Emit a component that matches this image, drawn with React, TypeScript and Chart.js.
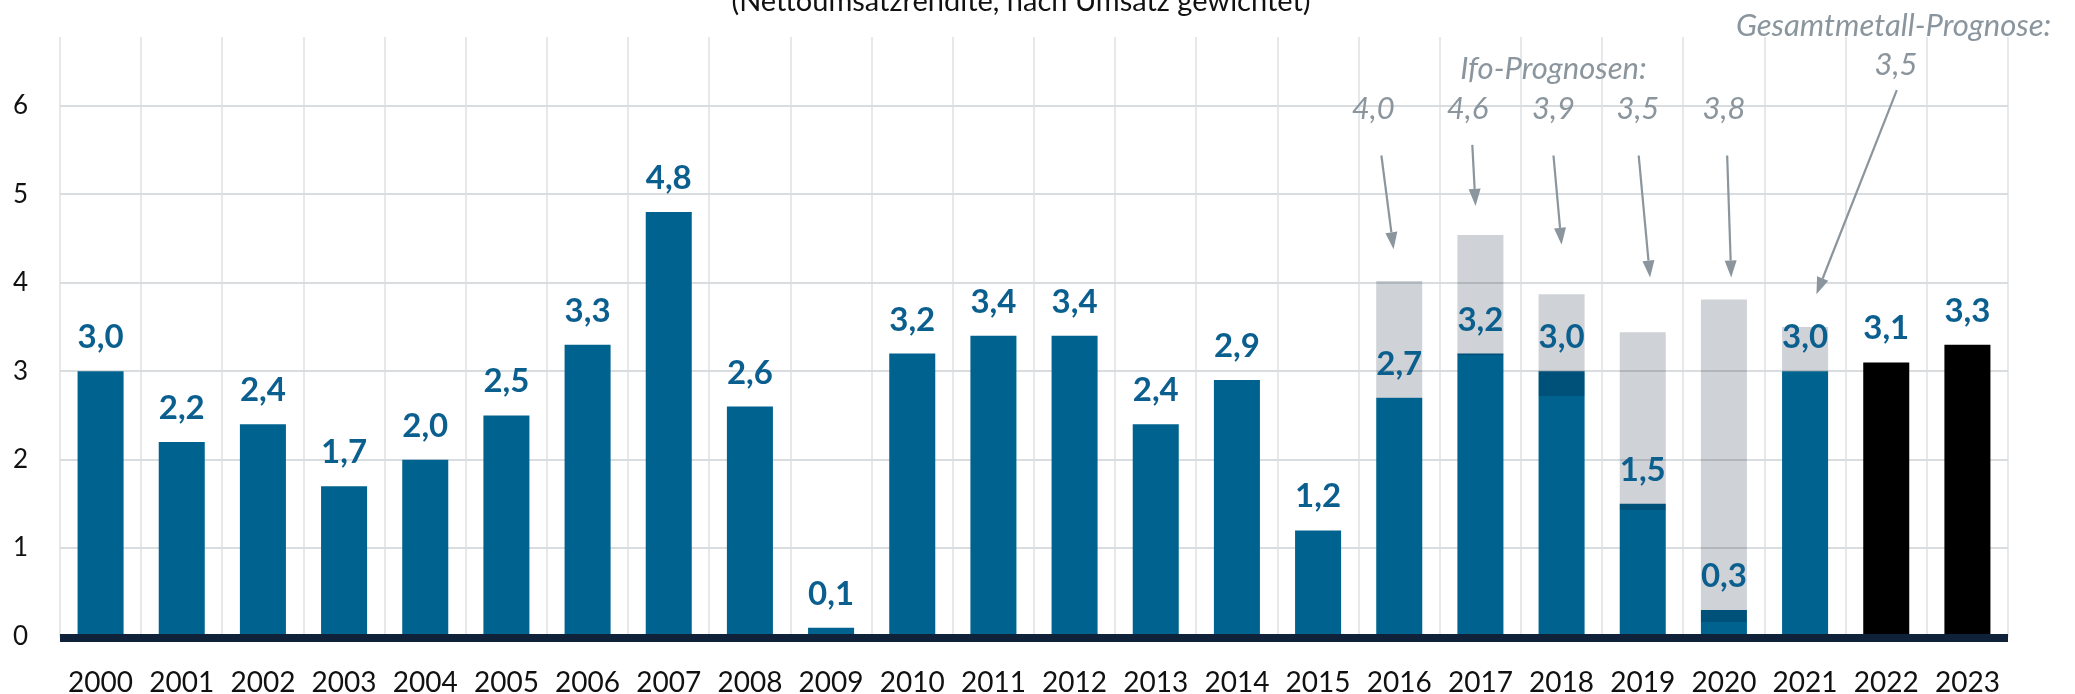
import React, { useEffect, useRef } from 'react';
import { Chart, registerables } from 'chart.js';

Chart.register(...registerables);

// ---------- data ----------
const years = ['2000', '2001', '2002', '2003', '2004', '2005', '2006', '2007', '2008', '2009', '2010', '2011', '2012', '2013', '2014', '2015', '2016', '2017', '2018', '2019', '2020', '2021', '2022', '2023'];
const actualValues = [3.0, 2.2, 2.4, 1.7, 2.0, 2.5, 3.3, 4.8, 2.6, 0.1, 3.2, 3.4, 3.4, 2.4, 2.9, 1.2, 2.7, 3.2, 3.0, 1.5, 0.3, 3.0, 3.1, 3.3];
const actualLabels = ['3,0', '2,2', '2,4', '1,7', '2,0', '2,5', '3,3', '4,8', '2,6', '0,1', '3,2', '3,4', '3,4', '2,4', '2,9', '1,2', '2,7', '3,2', '3,0', '1,5', '0,3', '3,0', '3,1', '3,3'];
// forecast (grey) bars: start and end per year, null where none
const forecastStart = [null, null, null, null, null, null, null, null, null, null, null, null, null, null, null, null, 2.7, 3.18, 2.72, 1.43, 0.165, 3.0, null, null];
const forecastEnd = [null, null, null, null, null, null, null, null, null, null, null, null, null, null, null, null, 4.02, 4.54, 3.87, 3.44, 3.81, 3.5, null, null];
// Ifo forecasts (2016-2020) and Gesamtmetall forecast (2021)
const ifoYears = [16, 17, 18, 19, 20];
const ifoLabels = ['4,0', '4,6', '3,9', '3,5', '3,8'];
const ifoLabelShift = [-0.32, -0.16, -0.1, -0.06, 0.0];
const ifoArrowStart = [[-0.22, 5.44], [-0.1, 5.56], [-0.1, 5.44], [-0.05, 5.44], [0.04, 5.44]];
const ifoArrowEnd = [[-0.07, 4.38], [-0.06, 4.87], [0.0, 4.43], [0.09, 4.06], [0.09, 4.06]];
const gmYear = 21;
const gmLabel = '3,5';
const yTicks = [0, 1, 2, 3, 4, 5, 6];
const yMax = 6.78;

const titleText = '(Nettoumsatzrendite, nach Umsatz gewichtet)';
const ifoHeading = 'Ifo-Prognosen:';
const gmHeading = 'Gesamtmetall-Prognose:';

const BLUE = '#00628f';
const BLACK = '#000000';
const GREY = '#cfd2d7';
const LABEL_BLUE = '#0b5f8e';
const ANNOT = '#8a959d';
const AXIS = '#10223a';

function drawArrow(ctx: CanvasRenderingContext2D, x1: number, y1: number, x2: number, y2: number) {
  const ang = Math.atan2(y2 - y1, x2 - x1);
  const len = 17;
  const hw = 6;
  const bx = x2 - len * Math.cos(ang);
  const by = y2 - len * Math.sin(ang);
  ctx.beginPath();
  ctx.moveTo(x1, y1);
  ctx.lineTo(bx, by);
  ctx.stroke();
  ctx.beginPath();
  ctx.moveTo(x2, y2);
  ctx.lineTo(bx + hw * Math.sin(ang), by - hw * Math.cos(ang));
  ctx.lineTo(bx - hw * Math.sin(ang), by + hw * Math.cos(ang));
  ctx.closePath();
  ctx.fill();
}

const multiplyPlugin = {
  id: 'multiplyGrey',
  beforeDatasetDraw(chart: any, args: any) {
    if (args.index === 0) {
      chart.ctx.save();
      chart.ctx.globalCompositeOperation = 'multiply';
    }
  },
  afterDatasetDraw(chart: any, args: any) {
    if (args.index === 0) chart.ctx.restore();
  },
};

const decorPlugin = {
  id: 'decor',
  afterDatasetsDraw(chart: any) {
    const ctx: CanvasRenderingContext2D = chart.ctx;
    const xs = chart.scales.x;
    const ys = chart.scales.y;
    const area = chart.chartArea;
    ctx.save();
    // axis line
    const y0 = ys.getPixelForValue(0);
    ctx.fillStyle = AXIS;
    ctx.fillRect(area.left, y0 - 2.5, area.right - area.left, 8);

    // value labels
    ctx.fillStyle = LABEL_BLUE;
    ctx.font = 'bold 33px Lato';
    ctx.textAlign = 'center';
    ctx.textBaseline = 'alphabetic';
    actualValues.forEach((v, i) => {
      ctx.fillText(actualLabels[i], xs.getPixelForValue(i), ys.getPixelForValue(v) - 23);
    });

    // annotations
    ctx.fillStyle = ANNOT;
    ctx.strokeStyle = ANNOT;
    ctx.lineWidth = 2.2;
    ctx.font = 'italic 31px Lato';
    ifoYears.forEach((yi, k) => {
      ctx.fillText(ifoLabels[k], xs.getPixelForValue(yi + ifoLabelShift[k]), ys.getPixelForValue(5.98) + 11);
      drawArrow(
        ctx,
        xs.getPixelForValue(yi + ifoArrowStart[k][0]), ys.getPixelForValue(ifoArrowStart[k][1]),
        xs.getPixelForValue(yi + ifoArrowEnd[k][0]), ys.getPixelForValue(ifoArrowEnd[k][1])
      );
    });
    ctx.fillText(ifoHeading, xs.getPixelForValue(17.9), ys.getPixelForValue(6.43) + 11);
    ctx.fillText(gmHeading, xs.getPixelForValue(gmYear + 1.09), ys.getPixelForValue(6.92) + 11);
    ctx.fillText(gmLabel, xs.getPixelForValue(gmYear + 1.12), ys.getPixelForValue(6.48) + 11);
    drawArrow(
      ctx,
      xs.getPixelForValue(gmYear + 1.13), ys.getPixelForValue(6.18),
      xs.getPixelForValue(gmYear + 0.14), ys.getPixelForValue(3.87)
    );

    // title (partially cut at top)
    ctx.fillStyle = '#111111';
    ctx.font = '29px Lato';
    ctx.fillText(titleText, (area.left + area.right) / 2 - 13, 11);
    ctx.restore();
  },
};

export default function App() {
  const canvasRef = useRef<HTMLCanvasElement | null>(null);

  useEffect(() => {
    document.body.style.margin = '0';
    const canvas = canvasRef.current!;
    const chart = new Chart(canvas, {
      type: 'bar',
      data: {
        labels: years,
        datasets: [
          {
            label: 'Prognose',
            data: forecastStart.map((s, i) => (s === null || forecastEnd[i] === null ? null : [s, forecastEnd[i]])) as any,
            backgroundColor: GREY,
            grouped: false,
            barPercentage: 0.567,
            categoryPercentage: 1,
          } as any,
          {
            label: 'Ist',
            data: actualValues,
            backgroundColor: actualValues.map((_, i) => (i >= 22 ? BLACK : BLUE)),
            grouped: false,
            barPercentage: 0.567,
            categoryPercentage: 1,
          } as any,
        ],
      },
      options: {
        responsive: false,
        animation: false,
        layout: { padding: { left: 0, top: 37, right: 67, bottom: 0 } },
        plugins: { legend: { display: false }, tooltip: { enabled: false }, title: { display: false } },
        scales: {
          x: {
            grid: { offset: true, color: '#e6e8ea', lineWidth: 2, drawTicks: false },
            border: { display: false },
            ticks: { font: { family: 'Lato', size: 28 }, color: '#111111', padding: 30, maxRotation: 0, autoSkip: false },
            afterFit: (s: any) => { s.height = 57.5; s.paddingLeft = 0; s.paddingRight = 0; },
          },
          y: {
            min: 0,
            max: yMax,
            grid: { color: '#dadde0', lineWidth: 2, drawTicks: false },
            border: { display: false },
            ticks: { font: { family: 'Lato', size: 26 }, color: '#111111', padding: 32, stepSize: 1 },
            afterBuildTicks: (s: any) => { s.ticks = yTicks.map((v) => ({ value: v })); },
            afterFit: (s: any) => { s.width = 60; s.paddingTop = 0; s.paddingBottom = 0; },
          },
        },
      },
      plugins: [multiplyPlugin, decorPlugin],
    });
    return () => chart.destroy();
  }, []);

  return (
    <div style={{ position: 'fixed', left: 0, top: 0, width: '2075px', height: '694px', background: '#ffffff' }}>
      <canvas ref={canvasRef} width={2075} height={694} style={{ display: 'block', width: '2075px', height: '694px' }} />
    </div>
  );
}
